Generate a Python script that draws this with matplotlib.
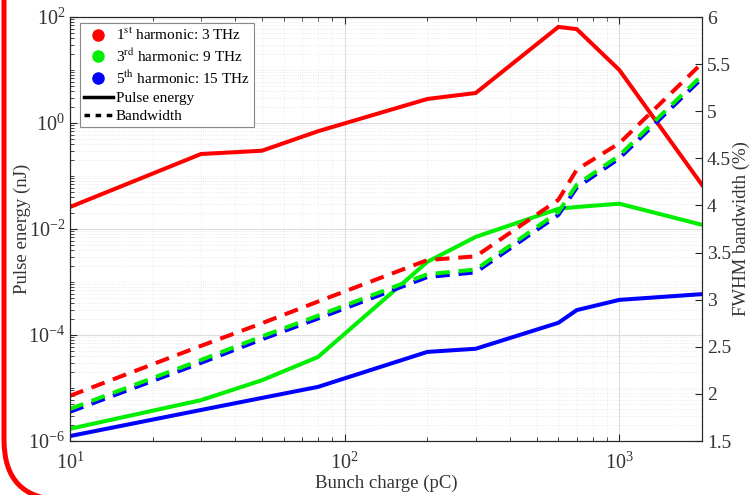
import matplotlib
matplotlib.use("Agg")
import matplotlib.pyplot as plt
import numpy as np
from matplotlib.lines import Line2D
from matplotlib.patches import FancyBboxPatch
from matplotlib.ticker import FixedLocator, LogLocator, LogFormatterMathtext, NullFormatter

plt.rcParams['font.family'] = ['Liberation Serif', 'DejaVu Serif']
plt.rcParams['mathtext.fontset'] = 'stix'

# bunch charge (pC)
charge = [10, 30, 50, 80, 200, 300, 600, 700, 1000, 2000]

# pulse energy (nJ), left axis
energy_1st = [0.026, 0.26, 0.30, 0.70, 2.84, 3.68, 65, 59, 10, 0.068]
energy_3rd = [1.7e-6, 5.9e-6, 1.4e-5, 3.85e-5, 2.4e-3, 7.1e-3, 0.024, 0.026, 0.030, 0.012]
energy_5th = [1.24e-6, 3.85e-6, 6.5e-6, 1.05e-5, 4.8e-5, 5.5e-5, 1.7e-4, 2.95e-4, 4.6e-4, 5.9e-4]

# FWHM bandwidth (%), right axis
bw_1st = [1.98, 2.51, 2.75, 2.98, 3.42, 3.46, 4.06, 4.38, 4.66, 5.51]
bw_3rd = [1.84, 2.36, 2.61, 2.83, 3.27, 3.32, 3.93, 4.22, 4.53, 5.38]
bw_5th = [1.81, 2.33, 2.58, 2.80, 3.24, 3.29, 3.90, 4.19, 4.50, 5.35]

labels = ['1$^{\\mathrm{st}}$ harmonic: 3 THz',
          '3$^{\\mathrm{rd}}$ harmonic: 9 THz',
          '5$^{\\mathrm{th}}$ harmonic: 15 THz']
colors = ['#ff0000', '#00ee00', '#0000ff']

W, H = 754, 495
fig = plt.figure(figsize=(W / 100, H / 100), dpi=100)
ax = fig.add_axes([70 / W, 1 - 441 / H, 632 / W, 424 / H])
ax2 = ax.twinx()

lw = 2.9
for e, c in zip([energy_1st, energy_3rd, energy_5th], colors):
    ax.plot(charge, e, color=c, lw=lw, solid_joinstyle='miter')
for b, c in zip([bw_1st, bw_5th, bw_3rd], [colors[0], colors[2], colors[1]]):
    ax2.plot(charge, b, color=c, lw=lw, dashes=(3.5, 2.2))

ax.set_xscale('log')
ax.set_yscale('log')
ax.set_xlim(10, 2000)
ax.set_ylim(1e-6, 1e2)
ax2.set_ylim(1.5, 6)

ax.yaxis.set_major_locator(FixedLocator([1e-6, 1e-4, 1e-2, 1e0, 1e2]))
ax.yaxis.set_major_formatter(LogFormatterMathtext())
ax.yaxis.set_minor_locator(LogLocator(base=10, subs=np.arange(1, 10), numticks=100))
ax.yaxis.set_minor_formatter(NullFormatter())
ax.xaxis.set_major_locator(FixedLocator([10, 100, 1000]))
ax.xaxis.set_major_formatter(LogFormatterMathtext())
ax.xaxis.set_minor_locator(LogLocator(base=10, subs=np.arange(2, 10), numticks=100))
ax.xaxis.set_minor_formatter(NullFormatter())
ax2.set_yticks([1.5, 2, 2.5, 3, 3.5, 4, 4.5, 5, 5.5, 6])
ax2.set_yticklabels(['1.5', '2', '2.5', '3', '3.5', '4', '4.5', '5', '5.5', '6'])

ax.grid(True, which='major', color='#dddddd', lw=0.8, ls='-')
ax.grid(True, which='minor', color='#e4e4e4', lw=0.6, ls=':')
ax.set_axisbelow(True)

tc = '#262626'
ax.tick_params(which='both', direction='in', top=True, right=False, colors=tc,
               labelsize=14.5, labelcolor='#333333')
ax.tick_params(which='major', length=5)
ax.tick_params(which='minor', length=3)
ax.tick_params(axis='x', pad=8)
ax2.tick_params(direction='in', length=5, colors=tc, labelsize=14, labelcolor='#333333')
for a in (ax, ax2):
    for s in a.spines.values():
        s.set_color(tc)
        s.set_linewidth(0.8)

ax.set_xlabel('Bunch charge (pC)', fontsize=13.5, color='#333333', labelpad=1)
ax.set_ylabel('Pulse energy (nJ)', fontsize=13.5, color='#333333')
ax.yaxis.set_label_coords(-0.062, 0.5)
ax2.set_ylabel('FWHM bandwidth (%)', fontsize=13.5, color='#333333', labelpad=1)

handles = [Line2D([], [], ls='none', marker='o', ms=8, mfc=c, mec=c) for c in colors]
handles += [Line2D([], [], color='k', lw=2.5), Line2D([], [], color='k', lw=2.5, dashes=(1.6, 1.6))]
leg = ax2.legend(handles, labels + ['Pulse energy', 'Bandwidth'], loc='upper left',
                 bbox_to_anchor=(10 / 632, 1 - 6 / 424), borderaxespad=0, fontsize=11,
                 handlelength=1.9, handletextpad=0.2, borderpad=0.25, labelspacing=0.3,
                 fancybox=False, framealpha=1, edgecolor='#888888')
leg.get_frame().set_linewidth(0.8)

# red rounded frame along left edge
frame = FancyBboxPatch((4, -5), 900, 700, boxstyle='round,pad=0,rounding_size=60',
                       transform=None, fill=False, edgecolor='#ff0000', lw=3.6, clip_on=False)
fig.add_artist(frame)

fig.savefig('out.png', dpi=100)
